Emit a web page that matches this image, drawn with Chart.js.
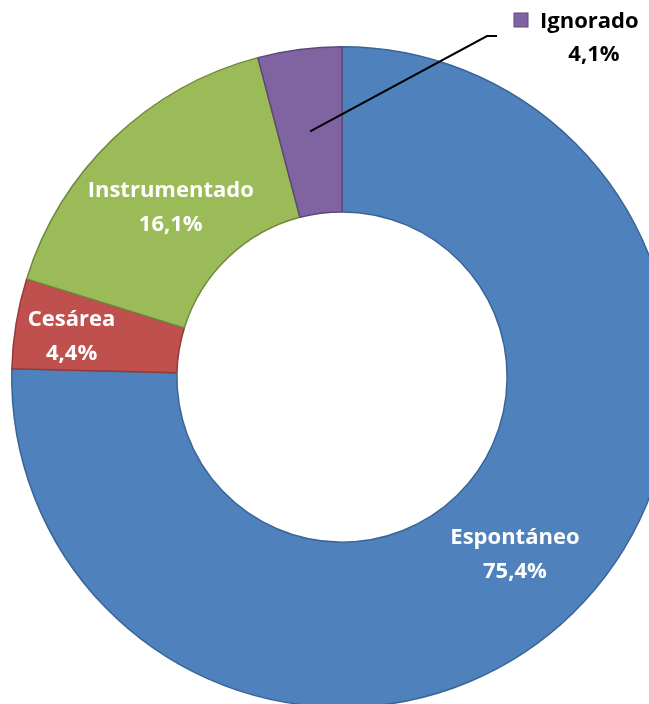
<!DOCTYPE html>
<html>
<head>
<meta charset="utf-8">
<script src="https://cdn.jsdelivr.net/npm/chart.js@4"></script>
<style>
  html, body { margin: 0; padding: 0; background: #fff; overflow: hidden; }
  #wrap { width: 649px; height: 704px; overflow: hidden; position: relative; }
  canvas { position: absolute; left: 0; top: 0; }
</style>
</head>
<body>
<div id="wrap"><canvas id="parto" width="700" height="760"></canvas></div>
<script>
const categories = ["Espontáneo", "Cesárea", "Instrumentado", "Ignorado"];
const percentages = [75.4, 4.4, 16.1, 4.1];
const sliceColors = ["#4F81BD", "#C0504D", "#9BBB59", "#8064A2"];
const sliceBorders = ["#3A6496", "#943A38", "#71893F", "#5C4776"];

// excel nudges a couple of the inside labels away from the ring centre
const labelShift = [[0, 0], [-26, 0], [0, 10], [0, 0]];
const FONT = "bold 22px 'Open Sans', 'Noto Sans', sans-serif";

let fmt = (v) => v.toFixed(1).replace(".", ",") + "%";

const labelPlugin = {
  id: "sliceLabels",
  afterDatasetsDraw(chart) {
    const ctx = chart.ctx;
    const meta = chart.getDatasetMeta(0);
    ctx.save();
    ctx.font = FONT;
    ctx.textAlign = "center";
    ctx.textBaseline = "middle";
    meta.data.forEach((arc, i) => {
      const p = arc.getProps(["x", "y", "startAngle", "endAngle", "innerRadius", "outerRadius"], true);
      const mid = (p.startAngle + p.endAngle) / 2;
      const r = (p.innerRadius + p.outerRadius) / 2;
      const cx = p.x + Math.cos(mid) * r;
      const cy = p.y + Math.sin(mid) * r;
      if (categories[i] === "Ignorado") {
        // leader line out to the callout at the top right
        const ex = 487, ey = 36;
        ctx.strokeStyle = "#000";
        ctx.lineWidth = 2;
        ctx.beginPath();
        ctx.moveTo(cx, cy);
        ctx.lineTo(ex, ey);
        ctx.lineTo(ex + 10, ey);
        ctx.stroke();
        ctx.fillStyle = sliceColors[i];
        ctx.strokeStyle = sliceBorders[i];
        ctx.lineWidth = 1;
        ctx.fillRect(514, 13, 14, 14);
        ctx.strokeRect(514, 13, 14, 14);
        ctx.fillStyle = "#000";
        ctx.textAlign = "left";
        ctx.fillText(categories[i], 540, 22);
        ctx.textAlign = "center";
        ctx.fillText(fmt(percentages[i]), 594, 55);
        return;
      }
      const x = cx + labelShift[i][0];
      const y = cy + labelShift[i][1];
      ctx.fillStyle = "#fff";
      ctx.fillText(categories[i], x, y - 17);
      ctx.fillText(fmt(percentages[i]), x, y + 17);
    });
    ctx.restore();
  },
};

const canvas = document.getElementById("parto");
const chart = new Chart(canvas.getContext("2d"), {
  type: "doughnut",
  data: {
    labels: categories,
    datasets: [
      {
        data: percentages,
        backgroundColor: sliceColors,
        borderColor: sliceBorders,
        borderWidth: 1.5,
      },
    ],
  },
  options: {
    responsive: false,
    animation: false,
    cutout: "50%",
    layout: { padding: { left: 11, top: 46, right: 27, bottom: 52 } },
    plugins: {
      legend: { display: false },
      tooltip: { enabled: false },
    },
  },
  plugins: [labelPlugin],
});
</script>
</body>
</html>
